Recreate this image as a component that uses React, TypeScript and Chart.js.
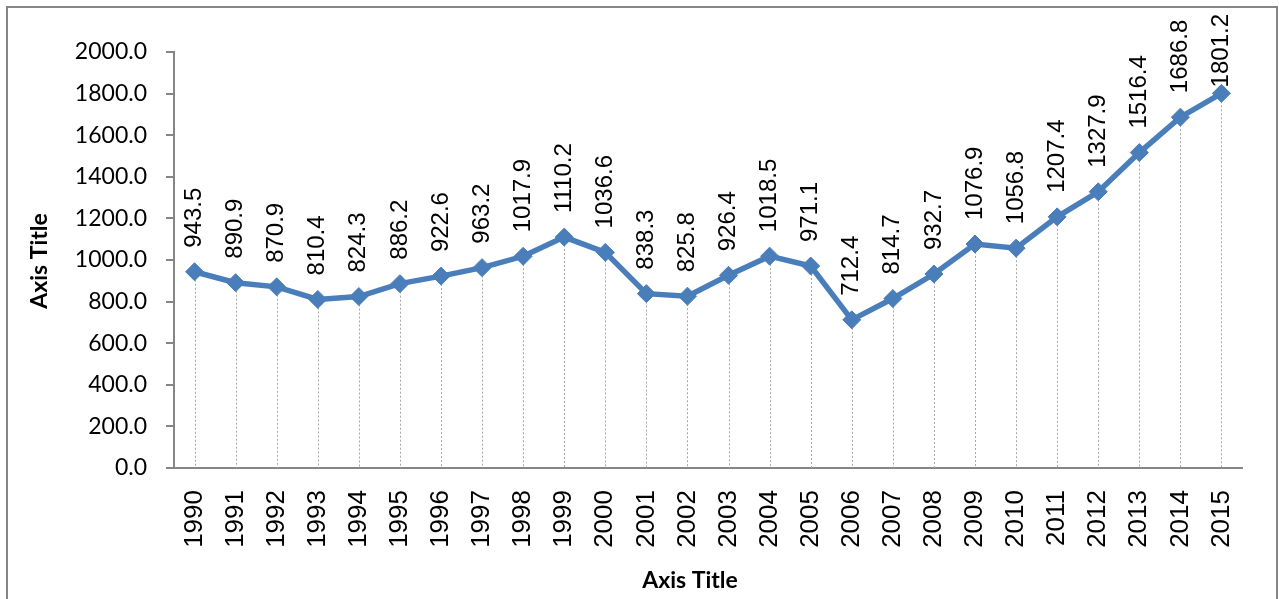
import React, { useEffect, useRef } from "react";
import { Chart, registerables } from "chart.js";

Chart.register(...registerables);

const years: string[] = [
  "1990", "1991", "1992", "1993", "1994", "1995", "1996", "1997", "1998", "1999",
  "2000", "2001", "2002", "2003", "2004", "2005", "2006", "2007", "2008", "2009",
  "2010", "2011", "2012", "2013", "2014", "2015",
];
const values: number[] = [
  943.5, 890.9, 870.9, 810.4, 824.3, 886.2, 922.6, 963.2, 1017.9, 1110.2,
  1036.6, 838.3, 825.8, 926.4, 1018.5, 971.1, 712.4, 814.7, 932.7, 1076.9,
  1056.8, 1207.4, 1327.9, 1516.4, 1686.8, 1801.2,
];
const yMin = 0;
const yMax = 2000;
const yStep = 200;
const xTitle = "Axis Title";
const yTitle = "Axis Title";

const LINE_COLOR = "#4a7ebb";
const AXIS_COLOR = "#868686";

export default function App() {
  const ref = useRef<HTMLCanvasElement | null>(null);

  useEffect(() => {
    document.body.style.margin = "0";
    const canvas = ref.current;
    if (!canvas) return;

    const framePlugin = {
      id: "frame",
      beforeDraw(chart: any) {
        const ctx = chart.ctx;
        ctx.save();
        ctx.fillStyle = "#ffffff";
        ctx.fillRect(0, 0, chart.width, chart.height);
        ctx.strokeStyle = AXIS_COLOR;
        ctx.lineWidth = 2;
        ctx.strokeRect(7, 7, 1270, 620);
        ctx.restore();
      },
      afterDraw(chart: any) {
        const ctx = chart.ctx;
        ctx.save();
        ctx.fillStyle = "#000000";
        ctx.font = "bold 23px Lato";
        ctx.textAlign = "center";
        ctx.textBaseline = "middle";
        ctx.fillText(xTitle, 690, 581);
        ctx.translate(40, 261);
        ctx.rotate(-Math.PI / 2);
        ctx.fillText(yTitle, 0, 0);
        ctx.restore();
      },
    };

    const dropPlugin = {
      id: "drops",
      beforeDatasetsDraw(chart: any) {
        const ctx = chart.ctx;
        const meta = chart.getDatasetMeta(0);
        const bottom = chart.scales.y.getPixelForValue(0);
        ctx.save();
        ctx.strokeStyle = "#a6a6a6";
        ctx.lineWidth = 1;
        ctx.setLineDash([2, 2]);
        meta.data.forEach((pt: any) => {
          const x = Math.round(pt.x) + 0.5;
          ctx.beginPath();
          ctx.moveTo(x, pt.y);
          ctx.lineTo(x, bottom);
          ctx.stroke();
        });
        ctx.restore();
      },
      afterDatasetsDraw(chart: any) {
        const ctx = chart.ctx;
        const meta = chart.getDatasetMeta(0);
        ctx.save();
        ctx.fillStyle = "#000000";
        ctx.font = "24px 'Liberation Sans'";
        ctx.textAlign = "left";
        ctx.textBaseline = "middle";
        meta.data.forEach((pt: any, i: number) => {
          const label = values[i].toFixed(1);
          const w = ctx.measureText(label).width;
          let bottomY = pt.y - 24;
          if (bottomY - w < 14) bottomY = 14 + w;
          ctx.save();
          ctx.translate(pt.x, bottomY);
          ctx.rotate(-Math.PI / 2);
          ctx.fillText(label, 0, 0);
          ctx.restore();
        });
        ctx.restore();
      },
    };

    const chart = new Chart(canvas, {
      type: "line",
      data: {
        labels: years,
        datasets: [
          {
            data: values,
            borderColor: LINE_COLOR,
            backgroundColor: LINE_COLOR,
            borderWidth: 5.5,
            pointStyle: "rectRot",
            pointRadius: 9,
            pointBackgroundColor: LINE_COLOR,
            pointBorderColor: LINE_COLOR,
            pointBorderWidth: 1,
            tension: 0,
            clip: false,
          },
        ],
      },
      options: {
        responsive: false,
        animation: false,
        events: [],
        layout: { padding: { left: 0, right: 37, top: 52, bottom: 0 } },
        plugins: {
          legend: { display: false },
          tooltip: { enabled: false },
          title: { display: false },
        },
        scales: {
          x: {
            type: "category",
            offset: true,
            grid: { display: false, drawTicks: false },
            border: { display: true, color: AXIS_COLOR, width: 2 },
            ticks: {
              color: "#000000",
              font: { family: "'Liberation Sans'", size: 26 },
              minRotation: 90,
              maxRotation: 90,
              padding: 22,
              autoSkip: false,
            },
            afterFit(scale: any) {
              scale.height = 131;
            },
          },
          y: {
            min: yMin,
            max: yMax,
            grid: {
              drawOnChartArea: false,
              drawTicks: true,
              tickLength: 8,
              color: AXIS_COLOR,
              lineWidth: 2,
            },
            border: { display: true, color: AXIS_COLOR, width: 2 },
            ticks: {
              stepSize: yStep,
              color: "#000000",
              font: { family: "Lato", size: 23 },
              padding: 19,
              callback: (v: any) => Number(v).toFixed(1),
            },
            afterFit(scale: any) {
              scale.width = 174;
            },
          },
        },
      },
      plugins: [framePlugin, dropPlugin],
    });

    return () => chart.destroy();
  }, []);

  return (
    <div style={{ width: 1279, height: 599 }}>
      <canvas ref={ref} width={1279} height={599} style={{ display: "block" }} />
    </div>
  );
}
